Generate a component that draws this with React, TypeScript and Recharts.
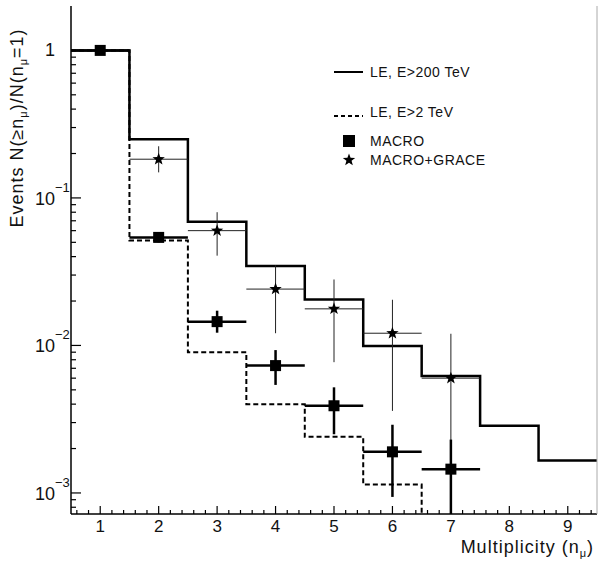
import React from 'react';
import { ComposedChart, Line, Scatter, XAxis, YAxis, ErrorBar } from 'recharts';

// ---- data ----
const binEdges = [0.5, 1.5, 2.5, 3.5, 4.5, 5.5, 6.5, 7.5, 8.5, 9.5];
const le200Values = [1, 0.25, 0.069, 0.0345, 0.0205, 0.0099, 0.0062, 0.00285, 0.00166];
const le2Values = [1, 0.0515, 0.009, 0.004, 0.0024, 0.00114];

const Y_MIN = 7.2e-4;
const Y_MAX = 2;

const macroX = [1, 2, 3, 4, 5, 6, 7];
const macroY = [1, 0.054, 0.0145, 0.0073, 0.0039, 0.0019, 0.00145];
const macroLo = [1, 0.05, 0.0122, 0.0054, 0.0025, 0.00094, Y_MIN];
const macroHi = [1, 0.058, 0.0172, 0.0093, 0.0052, 0.0029, 0.0023];

const graceX = [2, 3, 4, 5, 6, 7];
const graceY = [0.183, 0.06, 0.0241, 0.0177, 0.0121, 0.006];
const graceLo = [0.149, 0.0406, 0.0121, 0.0077, 0.0036, Y_MIN];
const graceHi = [0.224, 0.08, 0.035, 0.028, 0.0204, 0.012];

const xTickLabels = ['1', '2', '3', '4', '5', '6', '7', '8', '9'];
const xHalfWidth = 0.5;

// ---- derived tables ----
const le200Data = binEdges.map((x, i) => ({ x, y: le200Values[Math.min(i, le200Values.length - 1)] }));
const le2Data = le2Values
  .map((v, i) => ({ x: binEdges[i], y: v }))
  .concat([{ x: binEdges[le2Values.length], y: Y_MIN }]);

const macroData = macroX.map((x, i) => ({
  x,
  y: macroY[i],
  ye: [macroY[i] - macroLo[i], macroHi[i] - macroY[i]],
  xe: xHalfWidth,
}));
const graceData = graceX.map((x, i) => ({
  x,
  y: graceY[i],
  ye: [graceY[i] - graceLo[i], graceHi[i] - graceY[i]],
  xe: xHalfWidth,
}));

const xTicks: number[] = [];
for (let k = 0; k <= 44; k++) xTicks.push(Math.round((0.6 + 0.2 * k) * 10) / 10);
const yTicks: number[] = [];
for (let d = -4; d <= 0; d++) {
  for (let m = 1; m <= 9; m++) {
    const v = m * Math.pow(10, d);
    if (v >= Y_MIN && v <= 1.0001) yTicks.push(v);
  }
}

const FONT = '"Liberation Sans", Arial, Helvetica, sans-serif';

const XTick = (props: any) => {
  const { x, y, payload } = props;
  const v = payload.value;
  const major = Math.abs(v - Math.round(v)) < 1e-6;
  const label = major ? xTickLabels[Math.round(v) - 1] : null;
  return (
    <g>
      <line x1={x} y1={y} x2={x} y2={y - (major ? 8 : 4)} stroke="#000" strokeWidth={1.2} />
      {label && (
        <text x={x} y={y + 18} textAnchor="middle" fontSize={17} fontFamily={FONT} fill="#111">
          {label}
        </text>
      )}
    </g>
  );
};

const YTick = (props: any) => {
  const { x, y, payload } = props;
  const v = payload.value;
  const lg = Math.log10(v);
  const major = Math.abs(lg - Math.round(lg)) < 1e-6;
  const e = Math.round(lg);
  return (
    <g>
      <line x1={x} y1={y} x2={x + (major ? 10 : 5)} y2={y} stroke="#000" strokeWidth={1.2} />
      {major && e === 0 && (
        <text x={55} y={y + 6} textAnchor="end" fontSize={18} fontFamily={FONT} fill="#111">1</text>
      )}
      {major && e !== 0 && (
        <g>
          <text x={55} y={y + 7} textAnchor="end" fontSize={18} fontFamily={FONT} fill="#111">10</text>
          <text x={55} y={y - 6} textAnchor="start" fontSize={13} fontFamily={FONT} fill="#111">
            {'\u2212' + Math.abs(e)}
          </text>
        </g>
      )}
    </g>
  );
};

const starPoints = (cx: number, cy: number, R: number, r: number) => {
  const pts: string[] = [];
  for (let i = 0; i < 10; i++) {
    const a = -Math.PI / 2 + (i * Math.PI) / 5;
    const rad = i % 2 === 0 ? R : r;
    pts.push(`${cx + rad * Math.cos(a)},${cy + rad * Math.sin(a)}`);
  }
  return pts.join(' ');
};

const SquareShape = (p: any) => <rect x={p.cx - 5.5} y={p.cy - 5.5} width={11} height={11} fill="#000" />;
const StarShape = (p: any) => <polygon points={starPoints(p.cx, p.cy, 6.5, 2.7)} fill="#000" />;

export default function App() {
  return (
    <div style={{ position: 'absolute', left: 0, top: 0, width: 598, height: 561, background: '#fff' }}>
      <ComposedChart width={598} height={561} margin={{ top: 6, right: 0, bottom: 0, left: 0 }}>
        <XAxis
          dataKey="x"
          type="number"
          domain={[0.5, 9.5]}
          allowDataOverflow
          ticks={xTicks}
          interval={0}
          tick={<XTick />}
          tickLine={false}
          tickSize={0}
          tickMargin={0}
          height={47}
          axisLine={{ stroke: '#000', strokeWidth: 1.5 }}
        />
        <XAxis
          xAxisId="top"
          orientation="top"
          type="number"
          domain={[0.5, 9.5]}
          allowDataOverflow
          tick={false}
          tickLine={false}
          height={0}
          axisLine={{ stroke: '#000', strokeWidth: 1.5 }}
        />
        <YAxis
          dataKey="y"
          scale="log"
          type="number"
          domain={[Y_MIN, Y_MAX]}
          allowDataOverflow
          ticks={yTicks}
          interval={0}
          tick={<YTick />}
          tickLine={false}
          tickSize={0}
          tickMargin={0}
          width={71}
          axisLine={{ stroke: '#000', strokeWidth: 1.5 }}
        />
        <YAxis
          yAxisId="right"
          orientation="right"
          type="number"
          domain={[0, 1]}
          tick={false}
          tickLine={false}
          width={1}
          axisLine={{ stroke: '#aaa', strokeWidth: 1 }}
        />
        <Line
          data={le2Data}
          dataKey="y"
          type="stepAfter"
          stroke="#000"
          strokeWidth={2}
          strokeDasharray="5 3"
          dot={false}
          activeDot={false}
          isAnimationActive={false}
        />
        <Line
          data={le200Data}
          dataKey="y"
          type="stepAfter"
          stroke="#000"
          strokeWidth={2.5}
          dot={false}
          activeDot={false}
          isAnimationActive={false}
        />
        <Scatter data={graceData} dataKey="y" shape={<StarShape />} isAnimationActive={false}>
          <ErrorBar dataKey="ye" direction="y" width={0} stroke="#222" strokeWidth={1} isAnimationActive={false} />
          <ErrorBar dataKey="xe" direction="x" width={0} stroke="#222" strokeWidth={1} isAnimationActive={false} />
        </Scatter>
        <Scatter data={macroData} dataKey="y" shape={<SquareShape />} isAnimationActive={false}>
          <ErrorBar dataKey="ye" direction="y" width={0} stroke="#000" strokeWidth={2.5} isAnimationActive={false} />
          <ErrorBar dataKey="xe" direction="x" width={0} stroke="#000" strokeWidth={2.5} isAnimationActive={false} />
        </Scatter>
      </ComposedChart>
      <svg
        width={598}
        height={561}
        style={{ position: 'absolute', left: 0, top: 0, pointerEvents: 'none' }}
        fontFamily={FONT}
      >
        {/* legend */}
        <line x1={334} y1={72} x2={363} y2={72} stroke="#000" strokeWidth={2} />
        <text x={370} y={77} fontSize={14} letterSpacing={0.5} fill="#111">LE, E&gt;200 TeV</text>
        <line x1={334} y1={116} x2={363} y2={116} stroke="#000" strokeWidth={2} strokeDasharray="4 3" />
        <text x={370} y={117} fontSize={14} letterSpacing={0.5} fill="#111">LE, E&gt;2 TeV</text>
        <rect x={343} y={135} width={12} height={12} fill="#000" />
        <text x={370} y={146} fontSize={14} letterSpacing={0.5} fill="#111">MACRO</text>
        <polygon points={starPoints(349, 160, 6.5, 2.7)} fill="#000" />
        <text x={370} y={165} fontSize={14} letterSpacing={0.5} fill="#111">MACRO+GRACE</text>
        {/* x axis title */}
        <text x={594} y={553} textAnchor="end" fontSize={18} letterSpacing={1} fill="#111">
          Multiplicity (n<tspan fontSize={11} dy={4}>μ</tspan><tspan dy={-4}>)</tspan>
        </text>
        {/* y axis title */}
        <text
          x={0}
          y={0}
          transform="translate(23,128) rotate(-90)"
          textAnchor="middle"
          fontSize={18}
          letterSpacing={1}
          fill="#111"
        >
          Events N(≥n<tspan fontSize={11} dy={4}>μ</tspan>
          <tspan dy={-4}>)/N(n</tspan>
          <tspan fontSize={11} dy={4}>μ</tspan>
          <tspan dy={-4}>=1)</tspan>
        </text>
      </svg>
    </div>
  );
}
